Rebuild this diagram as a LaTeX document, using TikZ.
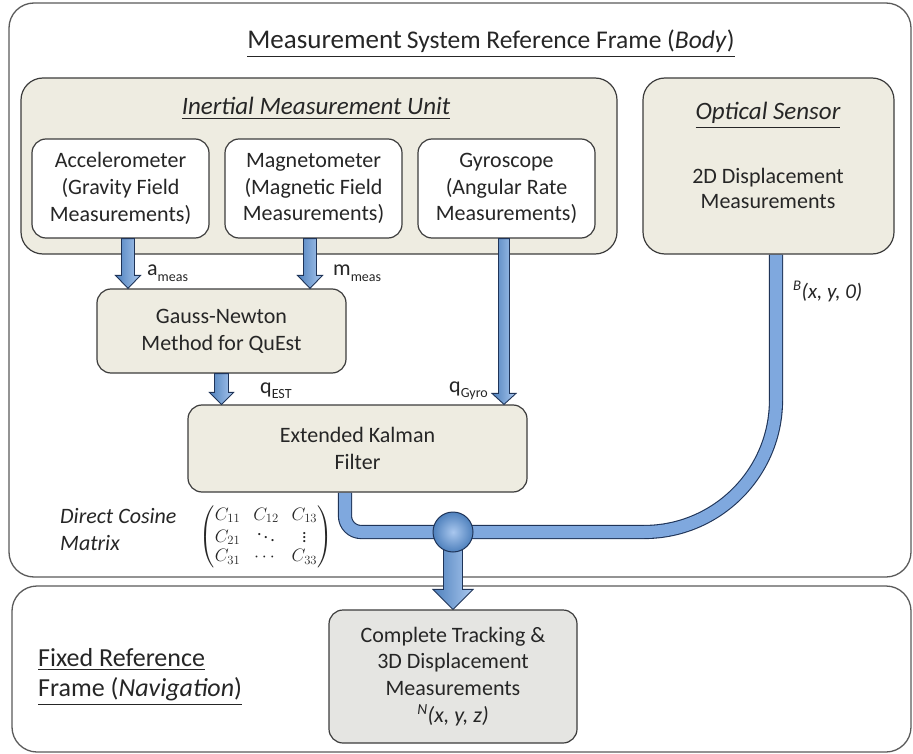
\RequirePackage{fix-cm}
\documentclass[tikz,border=0pt]{standalone}
\usepackage{amsmath}
\usepackage{fontspec}
\setmainfont{Carlito}
\usetikzlibrary{calc}
\definecolor{beige}{HTML}{EEECE1}
\definecolor{boxgray}{HTML}{E5E5E2}
\definecolor{edge}{HTML}{3C3C3C}
\definecolor{frameedge}{HTML}{5A5A5A}
\definecolor{txt}{HTML}{262626}
\definecolor{blueD}{HTML}{4F81BD}
\definecolor{blueL}{HTML}{A9C7EE}
\definecolor{blueM}{HTML}{7FA8DE}
\definecolor{blueE}{HTML}{1F3458}
\newcommand\fs[2]{\fontsize{#1}{#2}\selectfont}
\pgfdeclarelayer{frames}
\pgfdeclarelayer{pipes}
\pgfsetlayers{frames,pipes,main}
\newcommand\blockarrow[5]{%
  \shadedraw[barrow] ($(#1)+(-#3,0)$) -- ($(#2)+(-#3,-#5)$) -- ($(#2)+(-#4,-#5)$) -- (#2)
    -- ($(#2)+(#4,-#5)$) -- ($(#2)+(#3,-#5)$) -- ($(#1)+(#3,0)$) -- cycle;}
\begin{document}
\begin{tikzpicture}[x=1pt,y=-1pt,
  frame/.style={draw=frameedge, line width=1.3pt, rounded corners=25pt, inner sep=0pt},
  panel/.style={draw=edge, line width=1.2pt, rounded corners=22pt, fill=beige, inner sep=0pt},
  sensor/.style={draw=edge, line width=1.2pt, rounded corners=14pt, fill=white, align=center,
    text=txt, font=\fs{22}{26.8}, inner sep=0pt},
  proc/.style={draw=edge, line width=1.2pt, rounded corners=14pt, fill=beige, align=center,
    text=txt, font=\fs{22}{26.8}, inner sep=0pt},
  lbl/.style={text=txt, inner sep=0pt, font=\fs{22}{26.8}},
  barrow/.style={left color=blueD, right color=blueL, draw=blueE, line width=0.9pt, line join=miter},
  pipe/.style={draw=blueE, line width=1.1pt, double=blueM, double distance=12pt},
  junc/.style={circle, minimum size=40pt, inner sep=0pt, draw=blueE, line width=1pt,
    inner color=blueL, outer color=blueD}]
\useasboundingbox (0,0) rectangle (913,754);

% frames
\begin{pgfonlayer}{frames}
\fill[white] (0,0) rectangle (913,754);
\node[frame, minimum width=902pt, minimum height=574pt] (topf) at (460,290) {};
\node[frame, minimum width=899pt, minimum height=166pt] (botf) at (461.5,669) {};
\end{pgfonlayer}

\node[lbl, anchor=base] (title) at (491,49)
  {\underline{{\fs{27}{30}Measurement} {\fs{25.5}{30}System Reference Frame (\textit{Body})}}};

% panels
\node[panel, minimum width=596pt, minimum height=176pt] (imu) at (319,166) {};
\node[panel, minimum width=251pt, minimum height=176pt] (opt) at (768.5,166) {};
\node[lbl, anchor=base, font=\fs{25}{30}\itshape] (imut) at (316,115) {\underline{Inertial Measurement Unit}};
\node[lbl, anchor=base, font=\fs{25}{30}\itshape] (optt) at (768,120) {\underline{Optical Sensor}};
\node[lbl, align=center, font=\fs{22}{25}] (optx) at (768,188) {2D Displacement\\Measurements};

% sensors
\node[sensor, minimum width=177pt, minimum height=99pt] (acc) at (120.5,188.5)
  {Accelerometer\\(Gravity Field\\Measurements)};
\node[sensor, minimum width=177pt, minimum height=99pt] (mag) at (313.5,188.5)
  {Magnetometer\\(Magnetic Field\\Measurements)};
\node[sensor, minimum width=177pt, minimum height=99pt] (gyro) at (506.5,188.5)
  {Gyroscope\\(Angular Rate\\Measurements)};

% processing
\node[proc, minimum width=249pt, minimum height=84pt] (gauss) at (221.5,331)
  {Gauss-Newton\\Method for QuEst};
\node[proc, minimum width=339pt, minimum height=87pt] (ekf) at (357.5,448.5)
  {Extended Kalman\\Filter};
\node[proc, fill=boxgray, minimum width=248pt, minimum height=133pt] (done) at (453,676.5)
  {Complete Tracking \&\\3D Displacement\\Measurements\\\textit{\textsuperscript{N}(x, y, z)}};

% block arrows
\coordinate (a1) at ([xshift=7.5pt]acc.south);
\coordinate (a2) at (a1 |- gauss.north);
\blockarrow{a1}{a2}{6.5}{12.5}{13}
\coordinate (m1) at ([xshift=-3.5pt]mag.south);
\coordinate (m2) at (m1 |- gauss.north);
\blockarrow{m1}{m2}{6.5}{12.5}{13}
\coordinate (q1) at (gauss.south);
\coordinate (q2) at (q1 |- ekf.north);
\blockarrow{q1}{q2}{7}{12}{12}
\coordinate (g1) at ([xshift=-2.5pt]gyro.south);
\coordinate (g2) at (g1 |- ekf.north);
\blockarrow{g1}{g2}{5.5}{12}{11}

% labels
\node[lbl, anchor=base west] (la) at (147,275) {a{\fs{14}{16}\raisebox{-6pt}{meas}}};
\node[lbl, anchor=base west] (lm) at (333,275) {m{\fs{14}{16}\raisebox{-6pt}{meas}}};
\node[lbl, anchor=base west] (lq) at (260,393) {q{\fs{14}{16}\raisebox{-5pt}{EST}}};
\node[lbl, anchor=base east] (lg) at (488,392) {q{\fs{14}{16}\raisebox{-5pt}{Gyro}}};
\node[lbl, anchor=base west, font=\fs{21}{25}\itshape] (lb) at (793,298) {\textsuperscript{B}(x, y, 0)};
\node[lbl, anchor=west, align=left, font=\fs{22}{27}\itshape] (dcmt) at (60,530) {Direct Cosine\\Matrix};
\node[lbl, font=\fs{18}{19.5}] (dcm) at (266,537)
  {\setlength\arraycolsep{6.5pt}$\begin{pmatrix} C_{11} & C_{12} & C_{13}\\ C_{21} & \ddots & \vdots \\ C_{31} & \cdots & C_{33}\end{pmatrix}$};
\node[lbl, anchor=west, align=left, font=\fs{26}{30}] (fixt) at (38,677)
  {\underline{Fixed Reference}\\\underline{Frame (\textit{Navigation})}};

% junction and pipes
\node[junc] (j) at (453,532) {};
\begin{pgfonlayer}{pipes}
\coordinate (e1) at ([xshift=-12.5pt]ekf.south);
\draw[pipe, rounded corners=16pt] (e1) |- (j.center);
\coordinate (o1) at ([xshift=7.5pt]opt.south);
\draw[pipe, rounded corners=132pt] (o1) |- (j.center);
\coordinate (f2) at (j |- done.north);
\blockarrow{j.center}{f2}{9.5}{20}{20}
\end{pgfonlayer}
\end{tikzpicture}
\end{document}
